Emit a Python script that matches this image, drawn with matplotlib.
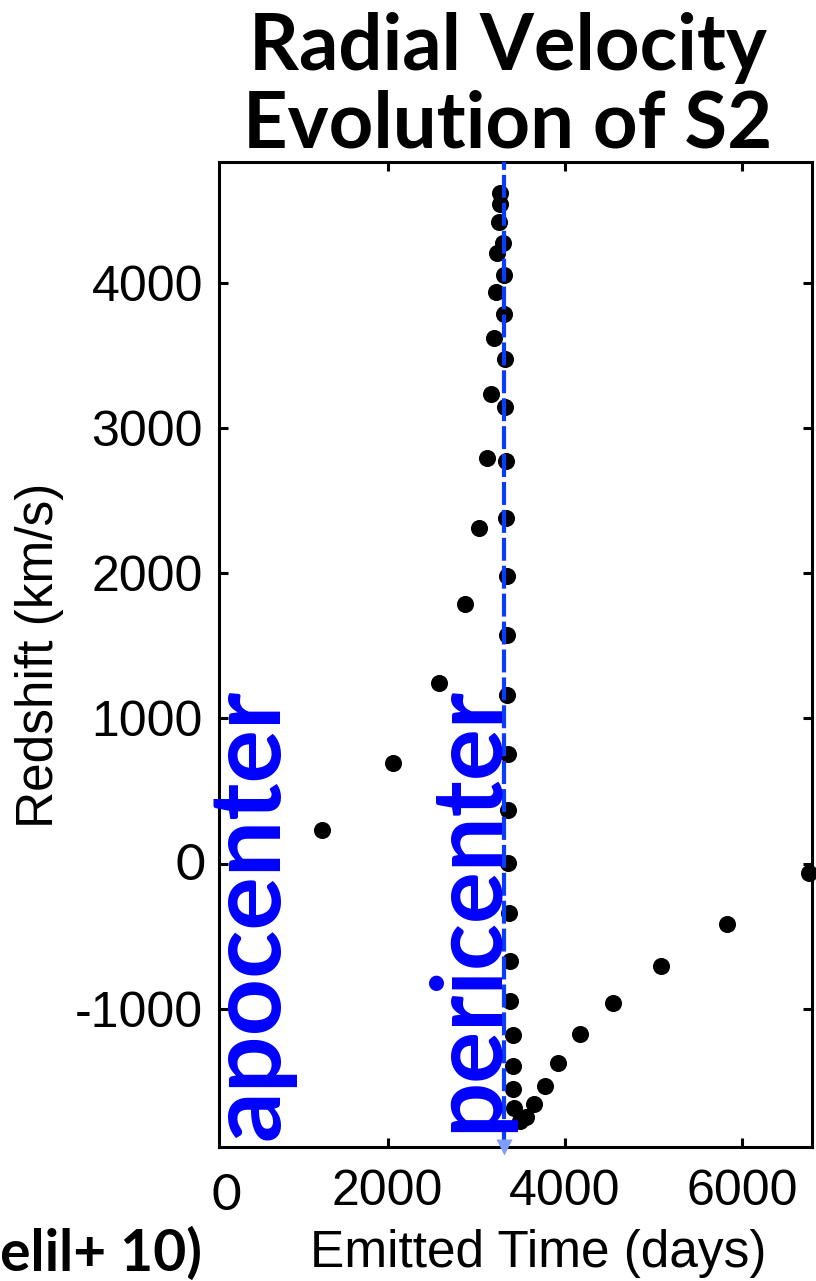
import numpy as np
import matplotlib
matplotlib.use("Agg")
import matplotlib.pyplot as plt

# S2: emitted time (days) vs redshift (km/s)
t_emit = np.array([1262, 2062, 2580, 2873, 3031, 3121, 3166, 3200, 3223, 3234,
                   3256, 3268, 3268, 3301, 3313, 3313, 3324, 3324, 3335, 3335,
                   3346, 3346, 3346, 3358, 3358, 3358, 3369, 3380, 3380, 3414,
                   3414, 3414, 3425, 3493, 3561, 3651, 3775, 3921, 4169, 4541,
                   5082, 5825, 6749])
v_red = np.array([231, 694, 1241, 1787, 2308, 2791, 3233, 3617, 3938, 4202,
                  4420, 4542, 4620, 4275, 4053, 3784, 3472, 3142, 2774, 2382,
                  1980, 1574, 1160, 754, 368, 3, -341, -669, -947, -1181,
                  -1395, -1556, -1684, -1773, -1744, -1656, -1532, -1372, -1176, -963,
                  -706, -417, -67])

t_peri = 3318

xticks = [2000, 4000, 6000]
xtick_labels = ["2000", "4000", "6000"]
yticks = [-1000, 0, 1000, 2000, 3000, 4000]
ytick_labels = ["-1000", "", "1000", "2000", "3000", "4000"]

W, H = 816, 1281
fig = plt.figure(figsize=(W / 100, H / 100), dpi=100)
ax = fig.add_axes([219 / W, 1 - 1146.7 / H, 593.5 / W, 985 / H])
ax.set_xlim(101, 6789)
ax.set_ylim(-1950, 4833)

# data points
ax.scatter(t_emit, v_red, s=12.3 ** 2, c="black", linewidths=0, zorder=3, clip_on=False)

# pericenter line + little arrow head
ax.axvline(t_peri, color="#0a3cff", lw=3.0, dashes=(5.5, 1.2), zorder=4)
ax.plot([t_peri], [-1950], marker="v", ms=11, color="#7f9cff", mec="none",
        clip_on=False, zorder=5)

# axes style
for sp in ax.spines.values():
    sp.set_linewidth(2.2)
ax.set_xticks(xticks, xtick_labels)
ax.set_yticks(yticks, ytick_labels)
ax.tick_params(direction="in", length=6.5, width=2.2, top=True, right=True,
               labelsize=36)
ax.tick_params(axis="x", pad=16)
ax.tick_params(axis="y", pad=11.5)
for lab in ax.get_xticklabels() + ax.get_yticklabels():
    lab.set_family("Liberation Sans")

# blue labels
ax.text(0.101, 0.007, "apocenter", transform=ax.transAxes, rotation=90,
        rotation_mode="anchor", ha="left", va="baseline", fontsize=72,
        color="#0000ff", fontweight="bold", family="Lato", zorder=6)
ax.text(0.468, 0.015, "pericenter", transform=ax.transAxes, rotation=90,
        rotation_mode="anchor", ha="left", va="baseline", fontsize=70,
        color="#0000ff", fontweight="bold", family="Lato", zorder=6)

# axis titles
fig.text(40 / W, 1 - 655 / H, "Redshift (km/s)", rotation=90, ha="center",
         va="center", fontsize=37, family="Liberation Sans")
fig.text(538 / W, 1 - 1253 / H, "Emitted Time (days)", ha="center",
         va="center", fontsize=37, family="Liberation Sans")

# zero labels pasted on top
fig.text(190 / W, 1 - 866 / H, "0", ha="center", va="center", fontsize=37, family="Lato")
fig.text(226 / W, 1 - 1196 / H, "0", ha="center", va="center", fontsize=37, family="Lato")

# title
fig.text(508 / W, 1 - 70 / H, "Radial Velocity", ha="center", va="baseline",
         fontsize=56, fontweight="bold", family="Lato")
fig.text(508 / W, 1 - 147 / H, "Evolution of S2", ha="center", va="baseline",
         fontsize=56, fontweight="bold", family="Lato")

# what is left of the reference at the bottom left corner
fig.text(0, 1 - 1271 / H, "elil+ 10)", ha="left", va="baseline",
         fontsize=41, fontweight="bold", family="Lato")

fig.savefig("out.png", dpi=100)
